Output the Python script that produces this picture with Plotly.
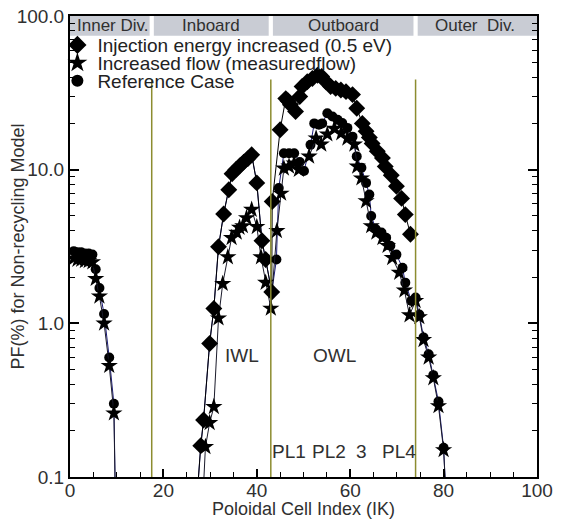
import math
import plotly.graph_objects as go

# ---------------- data ----------------
# Reference Case (circles)
ref_x = [0.8, 1.6, 2.4, 3.2, 4.0, 4.8, 5.5, 6.3, 7.3, 8.4, 9.4, 9.8, None,
         26.8, 28.0, 28.6, 29.9, 30.8, 31.8, 32.9, 34.0, 34.7, 35.5, 36.4, 37.2, 38.1, 38.9,
         40.0, 41.1, 41.9, 43.2, 44.2, 44.7, 45.8, 46.9, 48.0, 49.2, 50.1, 51.5, 52.3, 53.3,
         54.0, 55.1, 56.2, 57.3, 58.3, 59.4, 60.5, 61.4, 62.4, 63.4, 64.1, 64.5, 65.5, 66.7,
         67.7, 68.6, 69.9, 71.2, 71.8, 73.1, 74.0, 74.8, 75.7, 76.8, 77.8, 78.9, 80.0, 80.8]
ref_y = [2.95, 2.9, 2.9, 2.85, 2.85, 2.8, 2.25, 1.7, 1.15, 0.6, 0.3, 0.05, None,
         0.05, 0.16, 0.235, 0.74, 1.25, 3.15, 5.15, 7.4, 9.4, 10.0, 10.6, 11.2, 11.8, 12.5,
         8.2, 3.45, 2.6, 1.6, 2.6, 7.6, 12.8, 12.8, 12.8, 11.2, 9.8, 14.5, 20.0, 19.6,
         20.0, 23.3, 22.2, 21.1, 20.1, 18.7, 16.4, 12.2, 10.3, 8.2, 6.9, 5.0, 4.1, 3.9,
         3.6, 3.2, 2.8, 2.3, 1.84, 1.4, 1.47, 1.14, 0.81, 0.63, 0.46, 0.31, 0.155, 0.05]

# Increased flow (stars)
flow_x = [0.8, 1.6, 2.4, 3.2, 4.0, 4.8, 5.5, 6.3, 7.3, 8.4, 9.4, 9.8, None,
          28.2, 29.0, 29.9, 30.8, 31.8, 32.7, 33.8, 34.6, 35.7, 36.3, 37.0, 37.8, 38.9,
          40.0, 40.9, 41.9, 43.0, 44.3, 45.2, 45.8, 46.9, 48.0, 49.0, 51.2, 52.7, 53.8,
          55.1, 56.6, 58.1, 59.4, 60.9, 61.5, 62.4, 63.4, 64.5, 65.6, 66.9, 68.0, 69.0,
          70.5, 71.6, 72.7, 74.0, 74.8, 75.7, 76.8, 77.8, 78.9, 80.0, 80.8]
flow_y = [2.65, 2.6, 2.6, 2.55, 2.55, 2.5, 1.95, 1.5, 1.0, 0.53, 0.26, 0.05, None,
          0.05, 0.157, 0.225, 0.286, 1.08, 1.81, 2.7, 3.6, 3.9, 4.2, 4.3, 4.85, 5.5,
          4.25, 2.7, 1.84, 1.25, 4.0, 7.0, 10.2, 10.5, 11.0, 10.0, 12.2, 16.0, 14.6,
          17.0, 18.5, 17.3, 16.0, 14.6, 10.5, 8.8, 6.25, 4.3, 3.9, 3.6, 3.2, 2.67,
          2.14, 1.64, 1.13, 1.4, 1.1, 0.78, 0.6, 0.44, 0.29, 0.15, 0.05]

# Injection energy increased (diamonds)
inj_x = [26.8, 28.0, 28.6, 29.9, 30.8, 31.8, 32.9, 34.0, 34.7, 35.5, 36.4, 37.2, 38.1, 38.9,
         40.0, 41.1, 41.9, 43.2, 43.3, 45.0, 46.2, 46.7, 47.2, 48.3, 49.2, 49.7, 50.8, 51.9,
         53.0, 53.9, 54.8, 55.8, 56.9, 58.0, 59.1, 60.5, 61.4, 62.6, 63.4, 64.1, 64.7, 65.8,
         66.9, 67.5, 68.8, 69.9, 71.0, 71.8, 72.9]
inj_y = [0.05, 0.16, 0.235, 0.74, 1.25, 3.15, 5.15, 7.4, 9.4, 10.0, 10.6, 11.2, 11.8, 12.5,
         8.2, 3.45, 2.6, 1.6, 6.2, 18.2, 29.0, 28.0, 26.5, 23.9, 29.9, 34.8, 37.3, 39.2,
         41.2, 40.4, 37.3, 34.8, 33.8, 33.0, 32.2, 30.8, 25.1, 20.0, 17.8, 16.2, 14.8, 13.2,
         11.9, 10.5, 9.2, 7.8, 6.5, 5.1, 3.8]

series_names = ["Injection energy increased (0.5 eV)", "Increased flow (measuredflow)", "Reference Case"]

region_labels = ["Inner Div.", "Inboard", "Outboard", "Outer  Div."]
region_bounds = [(0, 17.5), (17.5, 43.0), (43.0, 74.0), (74.0, 100)]
region_label_x = [9.2, 30.2, 58.5, 86.8]
divider_x = [17.5, 43.0, 74.0]

text_labels = ["IWL", "OWL", "PL1", "PL2", "3", "PL4"]
text_x = [36.8, 56.6, 47.0, 55.5, 62.4, 70.4]
text_y = [0.62, 0.62, 0.146, 0.146, 0.146, 0.146]

y_tickvals = [0.1, 1, 10, 100]
y_ticktext = ["0.1", "1.0", "10.0", "100.0"]

FONT = "Liberation Sans, Arial, sans-serif"
TXT = "#303030"

fig = go.Figure()

# data traces (no legend)
fig.add_trace(go.Scatter(x=ref_x, y=ref_y, mode="lines+markers", showlegend=False,
                         line=dict(color="#1c1c7a", width=1),
                         marker=dict(symbol="circle", size=10, color="black")))
fig.add_trace(go.Scatter(x=flow_x, y=flow_y, mode="lines+markers", showlegend=False,
                         line=dict(color="#1a1a2a", width=1),
                         marker=dict(symbol="star", size=13, color="black")))
fig.add_trace(go.Scatter(x=inj_x, y=inj_y, mode="lines+markers", showlegend=False,
                         line=dict(color="black", width=1),
                         marker=dict(symbol="diamond", size=13, color="black")))

# legend entries: one small legend per entry so the line spacing matches the reference
legend_ids = ["legend", "legend2", "legend3"]
legend_y = [0.937, 0.898, 0.859]
for nm, sym, sz, lid in zip(series_names, ["diamond", "star", "circle"], [14, 15, 12], legend_ids):
    fig.add_trace(go.Scatter(x=[None], y=[None], mode="markers", name=nm, legend=lid,
                             marker=dict(symbol=sym, size=sz, color="black")))

shapes = []
for (x0, x1) in region_bounds:
    shapes.append(dict(type="rect", xref="x", yref="paper",
                       x0=x0 + (0.45 if x0 > 0 else 0), x1=x1 - (0.45 if x1 < 100 else 0),
                       y0=0.957, y1=1.0, fillcolor="#c9ccd4", line=dict(width=0), layer="below"))
for xv in divider_x:
    shapes.append(dict(type="line", xref="x", yref="paper", x0=xv, x1=xv, y0=0, y1=0.862,
                       line=dict(color="#8c8c30", width=1.5), layer="above"))

annotations = []
for lab, xv in zip(region_labels, region_label_x):
    annotations.append(dict(x=xv, y=0.979, xref="x", yref="paper", text=lab,
                            xanchor="center", yanchor="middle",
                            showarrow=False, font=dict(size=17, color=TXT, family=FONT)))
for lab, xv, yv in zip(text_labels, text_x, text_y):
    annotations.append(dict(x=xv, y=math.log10(yv), xref="x", yref="y", text=lab,
                            xanchor="center", yanchor="middle",
                            showarrow=False, font=dict(size=19, color=TXT, family=FONT)))

legend_common = dict(x=-0.027, xanchor="left", yanchor="middle", bgcolor="rgba(0,0,0,0)",
                     font=dict(size=19, color="#222222", family=FONT), itemwidth=30)
layout_legends = {}
for lid, ly in zip(legend_ids, legend_y):
    layout_legends[lid] = dict(legend_common, y=ly)

# page body has an 8px margin: size the figure so the plot box lands where the reference's does
fig.update_layout(
    width=559, height=511,
    margin=dict(l=62, r=30, t=8, b=42, autoexpand=False),
    paper_bgcolor="white", plot_bgcolor="white",
    font=dict(family=FONT, size=18, color=TXT),
    shapes=shapes, annotations=annotations,
    **layout_legends,
)
fig.update_xaxes(range=[0, 100], dtick=20, tick0=0, showgrid=False, zeroline=False, automargin=False,
                 showline=True, linecolor="black", linewidth=2, mirror=True,
                 ticks="inside", ticklen=8, tickwidth=1.5, tickcolor="black",
                 minor=dict(ticks="inside", dtick=5, ticklen=5, tickwidth=1, tickcolor="black"),
                 tickfont=dict(size=19, color=TXT), ticklabelstandoff=-5, ticklabeloverflow="allow",
                 title=dict(text="Poloidal Cell Index (IK)", font=dict(size=18, color=TXT)))
fig.update_yaxes(type="log", range=[-1, 2], tickvals=y_tickvals, ticktext=y_ticktext,
                 showgrid=False, zeroline=False, automargin=False,
                 showline=True, linecolor="black", linewidth=2, mirror="ticks",
                 ticks="inside", ticklen=9, tickwidth=1.5, tickcolor="black",
                 minor=dict(ticks="inside", dtick="D1", ticklen=5, tickwidth=1, tickcolor="black"),
                 tickfont=dict(size=19, color=TXT), ticklabeloverflow="allow",
                 title=dict(text="PF(%) for Non-recycling Model", font=dict(size=18, color=TXT), standoff=0))

fig.write_html("out.html")
